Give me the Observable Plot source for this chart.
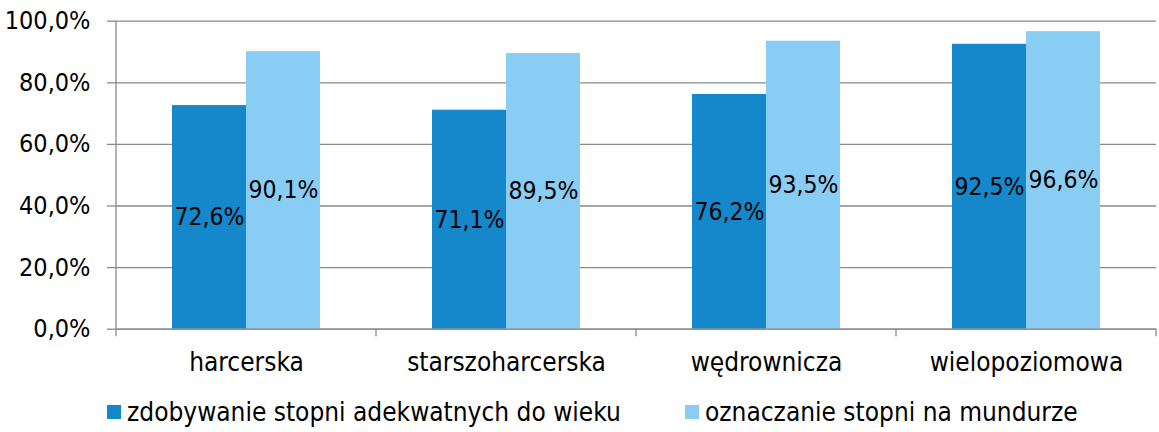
<!DOCTYPE html>
<html>
<head>
<meta charset="utf-8">
<script src="https://cdn.jsdelivr.net/npm/d3@7"></script>
<script src="https://cdn.jsdelivr.net/npm/@observablehq/plot@0.6"></script>
<style>
  body { margin: 0; background: #fff; font-family: "DejaVu Sans Condensed", "DejaVu Sans", sans-serif; }
  #wrap { position: relative; width: 1159px; height: 432px; }
  .legend-item { position: absolute; top: 397px; display: flex; align-items: center; font-size: 26px; color: #000; white-space: nowrap; }
  .legend-item .sw { width: 14px; height: 14px; margin-right: 6px; }
</style>
</head>
<body>
<div id="wrap"></div>
<script>
const categories = ["harcerska", "starszoharcerska", "wędrownicza", "wielopoziomowa"];
const series = ["zdobywanie stopni adekwatnych do wieku", "oznaczanie stopni na mundurze"];
const zdobywanie = [72.6, 71.1, 76.2, 92.5];
const oznaczanie = [90.1, 89.5, 93.5, 96.6];
const yTicks = [0, 20, 40, 60, 80, 100];
const colors = ["#1488CA", "#89CDF4"];
const gray = "#8a8a8a";

const values = [zdobywanie, oznaczanie];
const data = categories.flatMap((c, i) => series.map((s, j) => ({category: c, series: s, value: values[j][i]})));
const fmt = v => v.toFixed(1).replace(".", ",") + "%";

const plot = Plot.plot({
  width: 1159,
  height: 395,
  marginLeft: 114,
  marginRight: 1.3,
  marginTop: 20.7,
  marginBottom: 66.3,
  style: {fontFamily: "DejaVu Sans Condensed", fontSize: "24px", color: "#000", background: "#fff", overflow: "visible"},
  fx: {domain: categories, padding: 0, label: null},
  x: {domain: series, paddingInner: 0, paddingOuter: 0.755, axis: null},
  y: {domain: [0, 100], axis: null},
  color: {domain: series, range: colors},
  marks: [
    Plot.gridY(yTicks, {stroke: gray, strokeOpacity: 1, strokeWidth: 1.3}),
    Plot.axisY(yTicks, {anchor: "left", tickSize: 9, tickPadding: 17, tickFormat: fmt, stroke: gray, strokeWidth: 1.3, fontSize: 25, fill: "#000", label: null}),
    Plot.barY(data, {fx: "category", x: "series", y: "value", fill: "series"}),
    Plot.ruleY([0], {stroke: gray, strokeWidth: 1.3}),
    Plot.text(data, {fx: "category", x: "series", y: d => d.value / 2, text: d => fmt(d.value), fontSize: 24.5, fill: "#000"}),
    Plot.axisFx({anchor: "bottom", tickSize: 0, tickPadding: 23, fontSize: 26, fill: "#000", label: null})
  ]
});

// boundary ticks and vertical axis line, positioned from Plot's own scales
const fx = plot.scale("fx");
const ys = plot.scale("y");
const bounds = categories.map(c => fx.apply(c)).concat([fx.apply(categories[categories.length - 1]) + fx.bandwidth]);
const g = d3.select(plot).append("g").attr("stroke", gray).attr("stroke-width", 1.3);
g.selectAll("line.b").data(bounds).join("line")
  .attr("x1", d => d).attr("x2", d => d)
  .attr("y1", ys.apply(0)).attr("y2", ys.apply(0) + 7.5);
g.append("line")
  .attr("x1", bounds[0]).attr("x2", bounds[0])
  .attr("y1", ys.apply(100)).attr("y2", ys.apply(0));

const wrap = document.getElementById("wrap");
wrap.appendChild(plot);

const legendLeft = [107, 685];
series.forEach((s, i) => {
  const item = document.createElement("div");
  item.className = "legend-item";
  item.style.left = legendLeft[i] + "px";
  const sw = document.createElement("span");
  sw.className = "sw";
  sw.style.background = colors[i];
  const t = document.createElement("span");
  t.textContent = s;
  item.appendChild(sw);
  item.appendChild(t);
  wrap.appendChild(item);
});
</script>
</body>
</html>
